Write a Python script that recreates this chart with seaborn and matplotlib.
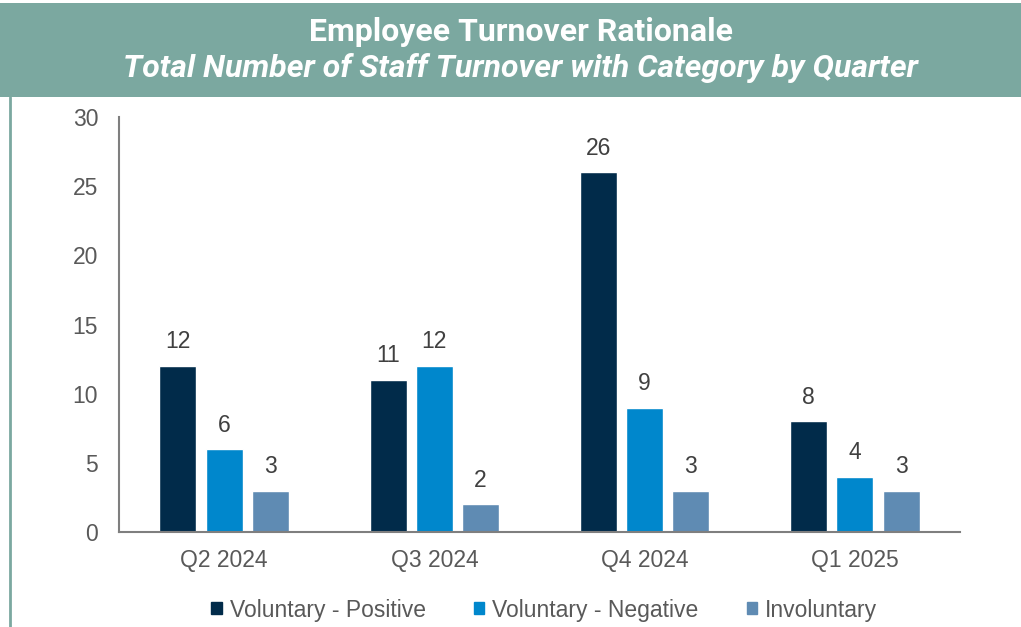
import pandas as pd
import matplotlib.pyplot as plt
import seaborn as sns
from matplotlib.patches import Rectangle
from matplotlib.lines import Line2D

quarters = ["Q2 2024", "Q3 2024", "Q4 2024", "Q1 2025"]
categories = ["Voluntary - Positive", "Voluntary - Negative", "Involuntary"]
vol_positive = [12, 11, 26, 8]
vol_negative = [6, 12, 9, 4]
involuntary = [3, 2, 3, 3]
colors = ["#012B4A", "#0087CC", "#5F8BB3"]

df = pd.DataFrame({
    "Quarter": quarters * 3,
    "Category": [categories[0]] * 4 + [categories[1]] * 4 + [categories[2]] * 4,
    "Count": vol_positive + vol_negative + involuntary,
})

sns.set_style("white")
plt.rcParams["font.family"] = ["Liberation Sans", "DejaVu Sans"]

fig = plt.figure(figsize=(10.21, 6.27), dpi=100)
ax = fig.add_axes([119 / 1021, 1 - 532 / 627, 841 / 1021, 415 / 627])

sns.barplot(data=df, x="Quarter", y="Count", hue="Category", order=quarters,
            hue_order=categories, palette=colors, width=0.66, gap=0.2,
            saturation=1, ax=ax, legend=False)

for cont in ax.containers:
    ax.bar_label(cont, padding=9, fontsize=16.5, color="#404040")

ax.set_ylim(0, 30)
ax.set_xlim(-0.5, 3.5)
ax.set_yticks(range(0, 31, 5))
ax.set_xlabel("")
ax.set_ylabel("")
ax.tick_params(axis="both", length=0, labelsize=16.5, labelcolor="#595959")
ax.tick_params(axis="y", pad=15)
ax.tick_params(axis="x", pad=12)
sns.despine(ax=ax)
for s in ["left", "bottom"]:
    ax.spines[s].set_color("#7F7F7F")
    ax.spines[s].set_linewidth(1.5)

# header band
fig.patches.append(Rectangle((0, 1 - 97 / 627), 1, 94 / 627, transform=fig.transFigure,
                             facecolor="#7BA8A0", edgecolor="none", zorder=0))
fig.lines.append(Line2D([10 / 1021, 10 / 1021], [0, 1 - 97 / 627], transform=fig.transFigure,
                        color="#7BA8A0", linewidth=2))
fig.text(0.51, 1 - 32 / 627, "Employee Turnover Rationale", ha="center", va="center",
         fontsize=23, fontweight="bold", color="white", family=["Roboto", "DejaVu Sans"])
fig.text(0.51, 1 - 68 / 627, "Total Number of Staff Turnover with Category by Quarter",
         ha="center", va="center", fontsize=23, fontweight="bold", style="italic",
         color="white", family=["Roboto", "DejaVu Sans"])

handles = [Rectangle((0, 0), 1, 1, color=c) for c in colors]
fig.legend(handles, categories, loc="center", bbox_to_anchor=(0.533, 1 - 610 / 627), ncol=3,
           frameon=False, fontsize=16.5, labelcolor="#595959", handlelength=0.45,
           handleheight=0.45, handletextpad=0.35, columnspacing=2.1)

fig.savefig("out.png", dpi=100)
